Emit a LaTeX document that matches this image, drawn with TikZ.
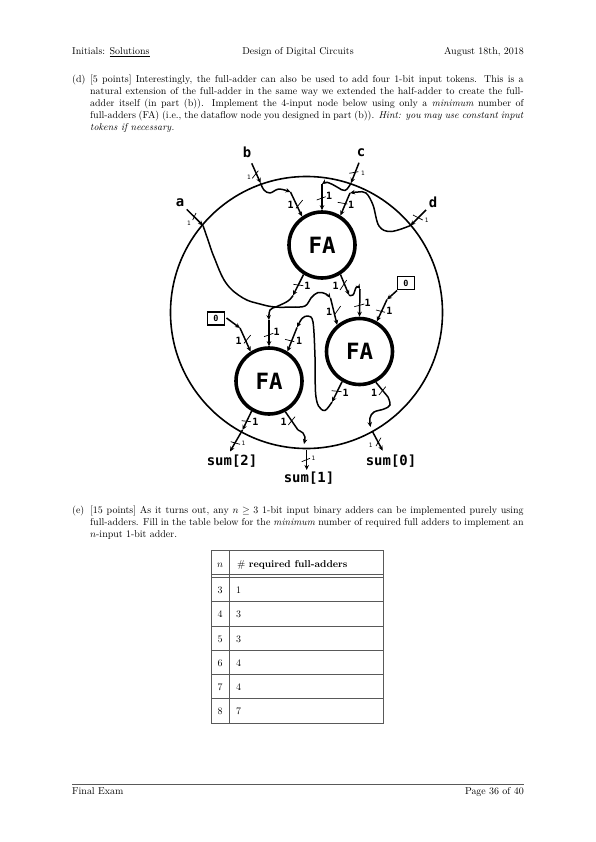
\documentclass[tikz,border=0pt]{standalone}
\usepackage{fontspec}
\newfontfamily\dejamono{DejaVu Sans Mono}
\usetikzlibrary{arrows.meta}
\tikzset{
  wire/.style={line width=1.5bp,-{Stealth[length=5bp,width=4.5bp]},line join=round},
  tickm/.style={line width=.7bp},
  fa/.style={circle,draw,line width=3.6bp,minimum size=66bp,inner sep=0,font=\dejamono\bfseries\fontsize{22.5}{22.5}\selectfont},
  outerc/.style={circle,draw,line width=1.6bp,minimum size=272bp,inner sep=0},
  bitl/.style={inner sep=0,font=\dejamono\bfseries\fontsize{10}{10}\selectfont},
  bits/.style={inner sep=0,font=\dejamono\fontsize{6}{6}\selectfont},
  iolab/.style={inner sep=0,font=\dejamono\bfseries\fontsize{14}{14}\selectfont},
  zero/.style={draw,line width=1.3bp,minimum width=17bp,minimum height=13bp,inner sep=0,font=\dejamono\bfseries\fontsize{8.5}{8.5}\selectfont},
  txt/.style={anchor=base west,inner sep=0},
  txtc/.style={anchor=base,inner sep=0},
  txtr/.style={anchor=base east,inner sep=0},
  tl/.style={line width=.5bp,black!65},
}
\newcommand{\jl}[1]{\makebox[433.5bp][s]{#1}}
\begin{document}
\begin{tikzpicture}[x=1bp,y=-1bp]
\useasboundingbox (0,0) rectangle (596,842);
\fill[white] (0,0) rectangle (596,842);
% header
\node[txt] (hl) at (72,54.5) {Initials: \underline{Solutions}};
\node[txtc] (hc) at (298,54.5) {Design of Digital Circuits};
\node[txtr] (hr) at (524,54.5) {August 18th, 2018};
% part d
\node[txt] (dm) at (72,82.5) {(d)};
\node[txt] (d1) at (90,82.5) {\jl{[5 points] Interestingly, the full-adder can also be used to add four 1-bit input tokens. This is a}};
\node[txt] (d2) at (90,94.4) {\jl{natural extension of the full-adder in the same way we extended the half-adder to create the full-}};
\node[txt] (d3) at (90,106.4) {\jl{adder itself (in part (b)). Implement the 4-input node below using only a \textit{minimum} number of}};
\node[txt] (d4) at (90,118.4) {\jl{full-adders (FA) (i.e., the dataflow node you designed in part (b)). \textit{Hint: you may use constant input}}};
\node[txt] (d5) at (90,130.3) {\textit{tokens if necessary.}};
% diagram
\node[outerc] (outer) at (306.5,312.5) {};
\node[fa,fill=white] (fa1) at (322,245) {FA};
\node[fa,fill=white] (fa2) at (269,381) {FA};
\node[fa,fill=white] (fa3) at (359.5,351.5) {FA};
\node[iolab] (a) at (180,202.5) {a};
\node[iolab] (b) at (247,152.5) {b};
\node[iolab] (c) at (361,152.5) {c};
\node[iolab] (d) at (433,202.5) {d};
\node[iolab] (s2) at (232,461) {sum[2]};
\node[iolab] (s1) at (309,478) {sum[1]};
\node[iolab] (s0) at (391,461) {sum[0]};
\node[zero] (z1) at (406,283) {0};
\node[zero] (z2) at (216,318.5) {0};
% free ends and junction points
\coordinate (ain) at (186.7,209.3);
\coordinate (bin) at (251.7,163.3);
\coordinate (cin) at (359,162.7);
\coordinate (din) at (426,210);
\coordinate (ja) at (203,225.5);
\coordinate (jb) at (260.5,183);
\coordinate (jb2) at (290.5,192);
\coordinate (jc) at (351,183);
\coordinate (jc2) at (322,184);
\coordinate (jd) at (410.5,225.5);
\coordinate (jd2) at (350,193);
\coordinate (ja2) at (330.5,298);
\coordinate (o1) at (293,295.5);
\coordinate (o1b) at (269,320);
\coordinate (o2) at (349,295);
\coordinate (o2b) at (360,289);
\coordinate (z1o) at (397,290.5);
\coordinate (z1b) at (387,299.5);
\coordinate (z2o) at (226.5,318);
\coordinate (z2b) at (240,328);
\coordinate (o3) at (332,402);
\coordinate (o3b) at (297,327.5);
\coordinate (o4) at (242.5,430);
\coordinate (e2) at (230,451.5);
\coordinate (o5) at (298,430);
\coordinate (o5b) at (304,444);
\coordinate (o5c) at (306.7,450);
\coordinate (e1) at (306.7,470);
\coordinate (o6) at (388,397);
\coordinate (o6b) at (370.5,427);
\coordinate (o6c) at (372.7,432);
\coordinate (e0) at (382.7,450.7);
% top-level input wires
\draw[wire] (ain) -- (ja);
\draw[wire] (bin) -- (jb);
\draw[wire] (cin) -- (jc);
\draw[wire] (din) -- (jd);
% inner wires
\draw[wire] plot[smooth,tension=.65] coordinates {(ja) (208,240) (214,257) (226,283) (243,298) (260,304) (275,307) (292,307) (305,306) (311,298) (318,292.5) (326,294) (ja2)};
\draw[wire] (ja2) -- (fa3.130);
\draw[wire] plot[smooth,tension=.6] coordinates {(jb) (264,190) (270,193) (279,189) (jb2)};
\draw[wire] (jb2) -- (fa1.125);
\draw[wire] plot[smooth,tension=.7] coordinates {(jc) (345,190.5) (337,187) (328,182.5) (jc2)};
\draw[wire] (jc2) -- (fa1.north);
\draw[wire] plot[smooth,tension=.6] coordinates {(jd) (391,231.5) (379,226) (373,205) (366,193) (358,192) (jd2)};
\draw[wire] (jd2) -- (fa1.58);
\draw[wire] (fa1.238) -- (o1);
\draw[wire] plot[smooth,tension=.7] coordinates {(o1) (288,301) (277,306.5) (270,310) (o1b)};
\draw[wire] (o1b) -- (fa2.north);
\draw[wire] (fa1.302) -- (o2);
\draw[wire] plot[smooth,tension=.8] coordinates {(o2) (353,295) (356.5,287) (o2b)};
\draw[wire] (o2b) -- (fa3.north);
\draw[wire] (z1o) -- (z1b);
\draw[wire] (z1b) -- (fa3.60);
\draw[wire] (z2o) -- (z2b);
\draw[wire] (z2b) -- (fa2.122);
\draw[wire] (fa3.240) -- (o3);
\draw[wire] plot[smooth,tension=.55] coordinates {(o3) (325,410.5) (318.5,406) (315.5,392) (315,357) (313,322) (308,316) (302,318.5) (o3b)};
\draw[wire] (o3b) -- (fa2.58);
\draw[wire] (fa2.240) -- (o4);
\draw[wire] (o4) -- (e2);
\draw[wire,-] (fa2.298) -- (o5);
\draw[wire] plot[smooth,tension=.7] coordinates {(o5) (303,433) (305,437) (o5b)};
\draw[wire] (o5c) -- (e1);
\draw[wire,-] (fa3.298) -- (o6);
\draw[wire] plot[smooth,tension=.6] coordinates {(o6) (390,405) (384,409) (374,412) (370,418) (o6b)};
\draw[wire] (o6c) -- (e0);
% width marks
\foreach \xa/\ya/\xb/\yb in {
192.7/220/196/213, 252.3/178.3/258.3/170.7, 349.3/173.3/358.3/171.7, 413/215/422.7/220,
296/208.3/302.7/200, 316.7/200/325.7/196.7, 337.7/202.3/347.3/204,
293.3/284.3/303.3/285.7, 340/290/346.7/280,
334.3/315/340.7/306, 354.3/306.7/364.3/304, 376/310/385/312.3,
244/343.3/250.7/335, 264/336.7/273.3/333.3, 285/339.3/294.3/341.7,
241.7/420.7/251/421.7, 288.3/425/295/416.7,
230.7/441.7/240/444.3, 301.7/461.7/310/458.3,
331.7/390.7/341.7/391.7, 379/395/385.7/386.7, 376/446/381/437.7}
  \draw[tickm] (\xa,\ya) -- (\xb,\yb);
% width labels
\node[bits] (wa) at (189,223) {1};
\node[bits] (wb) at (249,177.7) {1};
\node[bits] (wc) at (363,173) {1};
\node[bits] (wd) at (426.7,220) {1};
\node[bitl] (w1) at (290.7,205) {1};
\node[bitl] (w2) at (329,196) {1};
\node[bitl] (w3) at (351,205) {1};
\node[bitl] (w4) at (307.3,285.7) {1};
\node[bitl] (w5) at (335.7,285.7) {1};
\node[bitl] (w6) at (329,311.7) {1};
\node[bitl] (w7) at (367.7,303.3) {1};
\node[bitl] (w8) at (389.3,311) {1};
\node[bitl] (w9) at (238.7,340.7) {1};
\node[bitl] (w10) at (276.7,331.7) {1};
\node[bitl] (w11) at (299,341) {1};
\node[bitl] (w12) at (255.3,422) {1};
\node[bitl] (w13) at (283.7,422.3) {1};
\node[bits] (w14) at (243.3,443.3) {1};
\node[bits] (w15) at (313.3,458.3) {1};
\node[bitl] (w16) at (345.7,393.3) {1};
\node[bitl] (w17) at (374,392.7) {1};
\node[bits] (w18) at (370.7,445.3) {1};
% part e
\node[txt] (em) at (72,513) {(e)};
\node[txt] (e1t) at (90,513) {\jl{[15 points] As it turns out, any $n\geq 3$ 1-bit input binary adders can be implemented purely using}};
\node[txt] (e2t) at (90,525) {\jl{full-adders. Fill in the table below for the \textit{minimum} number of required full adders to implement an}};
\node[txt] (e3t) at (90,537) {$n$-input 1-bit adder.};
% table
\draw[tl] (211.5,550.7) rectangle (383.5,723);
\draw[tl] (229,550.7) -- (229,723);
\foreach \yy in {574.3,577,601.7,626,650.3,674.7,698.7}
  \draw[tl] (211.5,\yy) -- (383.5,\yy);
\node[txtc] (tn) at (220,567) {$n$};
\node[txtc,anchor=base west] (th) at (237,567) {\# \textbf{required full-adders}};
\foreach \r/\n/\v/\yy in {a/3/1/593, b/4/3/617.5, c/5/3/642, d/6/4/666, e/7/4/690.5, f/8/7/714.5}{
  \node[txtc] (tn\r) at (220,\yy) {\n};
  \node[txtc] (tv\r) at (238.5,\yy) {\v};
}
% footer
\draw[tl] (72,784.5) -- (524,784.5);
\node[txt] (fl) at (72,794) {Final Exam};
\node[txtr] (fr) at (524,794) {Page 36 of 40};
\end{tikzpicture}
\end{document}
